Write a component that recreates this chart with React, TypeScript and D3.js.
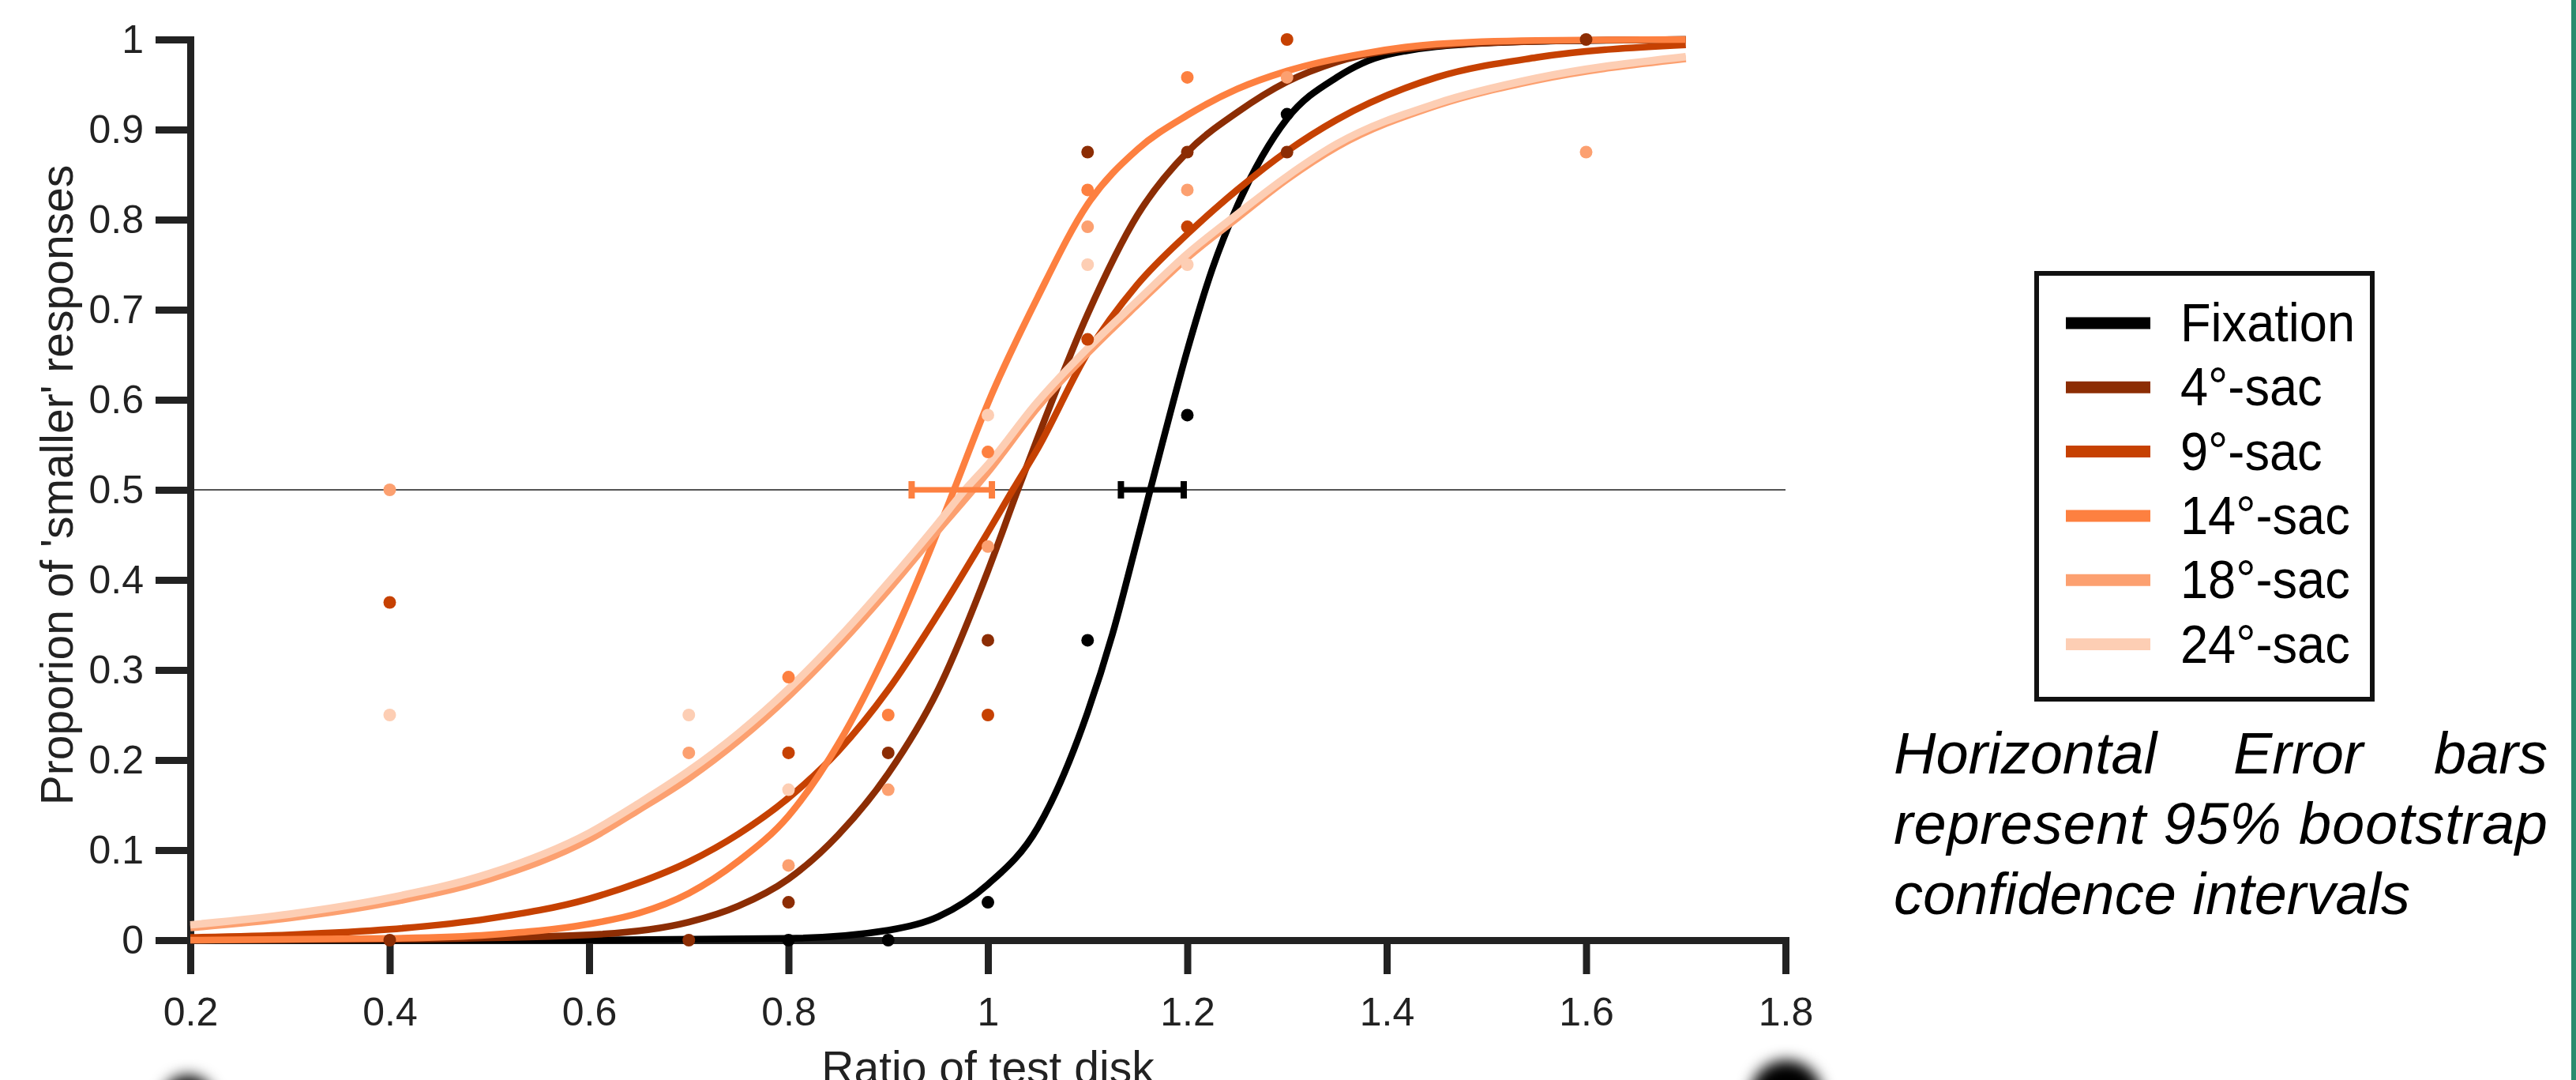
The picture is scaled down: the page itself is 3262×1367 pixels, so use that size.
import React, { useEffect, useRef } from "react";
import * as d3 from "d3";

const W = 3262;
const H = 1367;
const FONT = "'Liberation Sans', Arial, Helvetica, sans-serif";

const seriesNames = ["Fixation", "4°-sac", "9°-sac", "14°-sac", "18°-sac", "24°-sac"];
const seriesColors = ["#000000", "#8c2d04", "#c64102", "#fd8040", "#fca070", "#fdceb4"];

const xTicks = [0.2, 0.4, 0.6, 0.8, 1.0, 1.2, 1.4, 1.6, 1.8];
const yTicks = [0, 0.1, 0.2, 0.3, 0.4, 0.5, 0.6, 0.7, 0.8, 0.9, 1];

// observed proportions [ratio, proportion]
const ptsFixation: [number, number][] = [[0.8, 0], [0.9, 0], [1.0, 0.042], [1.1, 0.333], [1.2, 0.583], [1.3, 0.917]];
const pts4: [number, number][] = [[0.4, 0], [0.7, 0], [0.8, 0.042], [0.9, 0.208], [1.0, 0.333], [1.1, 0.875], [1.2, 0.875], [1.3, 0.875], [1.6, 1.0]];
const pts9: [number, number][] = [[0.4, 0.375], [0.8, 0.208], [1.0, 0.25], [1.1, 0.667], [1.2, 0.792], [1.3, 1.0]];
const pts14: [number, number][] = [[0.8, 0.292], [0.9, 0.25], [1.0, 0.542], [1.1, 0.833], [1.2, 0.958]];
const pts18: [number, number][] = [[0.4, 0.5], [0.7, 0.208], [0.8, 0.083], [0.9, 0.167], [1.0, 0.437], [1.1, 0.792], [1.2, 0.833], [1.3, 0.958], [1.6, 0.875]];
const pts24: [number, number][] = [[0.4, 0.25], [0.7, 0.25], [0.8, 0.167], [1.0, 0.583], [1.1, 0.75], [1.2, 0.75]];

// fitted psychometric curves
const fitFixation: [number, number][] = [[0.2, 0], [0.6, 0.0002], [0.8, 0.002], [0.9, 0.011], [0.95, 0.026], [1.0, 0.062], [1.05, 0.125], [1.1, 0.253], [1.125, 0.34], [1.15, 0.445], [1.175, 0.552], [1.2, 0.655], [1.225, 0.745], [1.25, 0.815], [1.275, 0.87], [1.3, 0.912], [1.35, 0.958], [1.4, 0.983], [1.5, 0.996], [1.6, 0.999], [1.7, 1.0]];
const fit4: [number, number][] = [[0.2, 0], [0.4, 0.001], [0.6, 0.006], [0.7, 0.02], [0.75, 0.038], [0.8, 0.068], [0.85, 0.117], [0.9, 0.185], [0.95, 0.278], [1.0, 0.41], [1.03, 0.5], [1.05, 0.558], [1.1, 0.695], [1.15, 0.805], [1.2, 0.875], [1.25, 0.919], [1.3, 0.953], [1.35, 0.975], [1.45, 0.993], [1.55, 0.998], [1.7, 1.0]];
const fit9: [number, number][] = [[0.2, 0.003], [0.3, 0.006], [0.4, 0.012], [0.5, 0.024], [0.6, 0.046], [0.65, 0.064], [0.7, 0.087], [0.75, 0.118], [0.8, 0.158], [0.85, 0.21], [0.9, 0.278], [0.95, 0.362], [1.0, 0.453], [1.025, 0.5], [1.05, 0.546], [1.1, 0.652], [1.15, 0.728], [1.2, 0.784], [1.25, 0.833], [1.3, 0.876], [1.35, 0.911], [1.45, 0.958], [1.55, 0.98], [1.7, 0.994]];
const fit14: [number, number][] = [[0.2, 0], [0.4, 0.002], [0.5, 0.006], [0.6, 0.018], [0.65, 0.03], [0.7, 0.052], [0.75, 0.088], [0.8, 0.138], [0.85, 0.218], [0.9, 0.325], [0.94, 0.4275], [0.966, 0.5], [1.0, 0.596], [1.05, 0.714], [1.1, 0.817], [1.15, 0.878], [1.2, 0.916], [1.25, 0.945], [1.3, 0.965], [1.38, 0.985], [1.45, 0.995], [1.55, 0.999], [1.7, 1.0]];
const fit18: [number, number][] = [[0.2, 0.014], [0.3, 0.025], [0.4, 0.042], [0.5, 0.068], [0.6, 0.112], [0.65, 0.145], [0.7, 0.18], [0.75, 0.222], [0.8, 0.271], [0.85, 0.327], [0.9, 0.389], [0.95, 0.455], [0.985, 0.5], [1.0, 0.52], [1.05, 0.592], [1.1, 0.652], [1.15, 0.706], [1.2, 0.758], [1.25, 0.802], [1.3, 0.845], [1.35, 0.881], [1.45, 0.927], [1.55, 0.955], [1.7, 0.979]];
const fit24: [number, number][] = [[0.2, 0.017], [0.3, 0.029], [0.4, 0.047], [0.5, 0.074], [0.6, 0.119], [0.65, 0.152], [0.7, 0.188], [0.75, 0.23], [0.8, 0.279], [0.85, 0.335], [0.9, 0.397], [0.95, 0.463], [0.977, 0.5], [1.0, 0.528], [1.05, 0.598], [1.1, 0.657], [1.15, 0.71], [1.2, 0.762], [1.25, 0.806], [1.3, 0.848], [1.35, 0.884], [1.45, 0.929], [1.55, 0.957], [1.7, 0.981]];

const allPts = [ptsFixation, pts4, pts9, pts14, pts18, pts24];
const allFits = [fitFixation, fit4, fit9, fit14, fit18, fit24];

// 95% bootstrap CIs of the PSE (series index, low, high)
const ciSeries = [3, 0];
const ciLow = [0.9235, 1.1334];
const ciHigh = [1.004, 1.1964];

const noteLines = ["Horizontal Error bars", "represent 95% bootstrap", "confidence intervals"];

export default function App() {
  const ref = useRef<SVGSVGElement>(null);

  useEffect(() => {
    const svg = d3.select(ref.current);
    svg.selectAll("*").remove();

    const x = d3.scaleLinear().domain([0.2, 1.8]).range([241, 2261]);
    const y = d3.scaleLinear().domain([0, 1]).range([1190, 50]);

    svg.append("rect").attr("width", W).attr("height", H).attr("fill", "#ffffff");

    const defs = svg.append("defs");
    const f = defs.append("filter").attr("id", "blob").attr("x", "-150%").attr("y", "-150%").attr("width", "400%").attr("height", "400%");
    f.append("feGaussianBlur").attr("stdDeviation", 9);

    // reference line at 0.5
    svg.append("line")
      .attr("x1", x(0.2)).attr("x2", x(1.8))
      .attr("y1", y(0.5)).attr("y2", y(0.5))
      .attr("stroke", "#555").attr("stroke-width", 2.2);

    // axes
    const fmt = (d: any) => String(+(+d).toFixed(1));
    const gy = svg.append("g").attr("transform", `translate(${x(0.2)},0)`)
      .call(d3.axisLeft(y).tickValues(yTicks).tickSize(44).tickSizeOuter(0).tickPadding(15).tickFormat(fmt));
    const gx = svg.append("g").attr("transform", `translate(0,${y(0)})`)
      .call(d3.axisBottom(x).tickValues(xTicks).tickSize(43).tickSizeOuter(0).tickPadding(29).tickFormat(fmt));
    [gy, gx].forEach((g) => {
      g.select(".domain").attr("stroke", "#222").attr("stroke-width", 9).attr("stroke-linecap", "square");
      g.selectAll(".tick line").attr("stroke", "#222").attr("stroke-width", 9);
      g.selectAll(".tick text").attr("fill", "#222").attr("font-size", 50).attr("font-family", FONT);
    });

    // fitted curves
    const line = d3.line<[number, number]>()
      .x((d) => x(d[0]))
      .y((d) => y(d[1]))
      .curve(d3.curveMonotoneX);
    allFits.forEach((fit, i) => {
      svg.append("path")
        .attr("d", line(fit) as string)
        .attr("fill", "none")
        .attr("stroke", seriesColors[i])
        .attr("stroke-width", i >= 4 ? 9.5 : 8.5);
    });

    // observed points
    allPts.forEach((pts, i) => {
      svg.append("g").selectAll("circle").data(pts).enter().append("circle")
        .attr("cx", (d) => x(d[0]))
        .attr("cy", (d) => y(d[1]))
        .attr("r", 8)
        .attr("fill", seriesColors[i]);
    });

    // error bars
    ciSeries.forEach((s, k) => {
      const g = svg.append("g").attr("stroke", seriesColors[s]).attr("stroke-width", 7);
      g.append("line").attr("x1", x(ciLow[k])).attr("x2", x(ciHigh[k])).attr("y1", y(0.5)).attr("y2", y(0.5));
      [ciLow[k], ciHigh[k]].forEach((v) => {
        g.append("line").attr("x1", x(v)).attr("x2", x(v)).attr("y1", y(0.5) - 11).attr("y2", y(0.5) + 11).attr("stroke-width", 8);
      });
    });

    // axis titles
    svg.append("text")
      .attr("transform", `translate(92,${y(0.5) - 6}) rotate(-90)`)
      .attr("text-anchor", "middle")
      .attr("font-family", FONT).attr("font-size", 57).attr("fill", "#222")
      .text("Proporion of 'smaller' responses");
    svg.append("text")
      .attr("x", x(1.0)).attr("y", 1371)
      .attr("text-anchor", "middle")
      .attr("font-family", FONT).attr("font-size", 57).attr("fill", "#222")
      .text("Ratio of test disk");

    // legend
    const lg = svg.append("g");
    lg.append("rect").attr("x", 2579).attr("y", 346).attr("width", 425).attr("height", 539)
      .attr("fill", "#fff").attr("stroke", "#111").attr("stroke-width", 6);
    seriesNames.forEach((name, i) => {
      const cy = 409 + i * 81.3;
      lg.append("line").attr("x1", 2616).attr("x2", 2723).attr("y1", cy).attr("y2", cy)
        .attr("stroke", seriesColors[i]).attr("stroke-width", 15);
      lg.append("text")
        .attr("transform", `translate(2761,${cy + 23}) scale(0.915,1)`)
        .attr("font-family", FONT).attr("font-size", 69).attr("fill", "#000")
        .text(name);
    });

    // note
    const note = svg.append("g").attr("font-family", FONT).attr("font-size", 74).attr("font-style", "italic").attr("fill", "#000");
    const words1 = noteLines[0].split(" ");
    note.append("text").attr("x", 2398).attr("y", 979).text(words1[0]);
    note.append("text").attr("x", 2828).attr("y", 979).text(words1[1]);
    note.append("text").attr("x", 3226).attr("y", 979).attr("text-anchor", "end").text(words1[2]);
    note.append("text").attr("x", 2398).attr("y", 1068).attr("textLength", 828).attr("lengthAdjust", "spacing").text(noteLines[1]);
    note.append("text").attr("x", 2398).attr("y", 1157).text(noteLines[2]);

    // blurred dark blobs at the bottom edge
    svg.append("circle").attr("cx", 238).attr("cy", 1395).attr("r", 34).attr("fill", "#000").attr("filter", "url(#blob)");
    svg.append("circle").attr("cx", 2262).attr("cy", 1388).attr("r", 46).attr("fill", "#000").attr("filter", "url(#blob)");

    // teal frame edge on the right
    svg.append("rect").attr("x", 3256).attr("y", 0).attr("width", 6).attr("height", H).attr("fill", "#2a8c6e");
  }, []);

  return (
    <svg
      ref={ref}
      width={W}
      height={H}
      style={{ position: "absolute", left: 0, top: 0, display: "block" }}
    />
  );
}
